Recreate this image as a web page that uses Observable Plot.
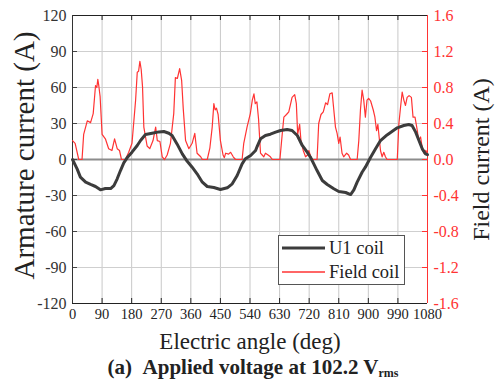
<!DOCTYPE html>
<html><head><meta charset="utf-8">
<script src="https://cdn.jsdelivr.net/npm/d3@7"></script>
<script src="https://cdn.jsdelivr.net/npm/@observablehq/plot@0.6"></script>
<style>body{margin:0;background:#fff;} #chart{width:496px;height:385px;} #chart svg text{font-family:'Times New Roman','Liberation Serif',serif !important;}</style>
</head><body><div id="chart"></div>
<script>
// ---- data ----
const angleTicks = [0,90,180,270,360,450,540,630,720,810,900,990,1080];
const armTicks = [-120,-90,-60,-30,0,30,60,90,120];
const fieldTickLabels = ["-1.6","-1.2","-0.8","-0.4","0.0","0.4","0.8","1.2","1.6"];
const fieldToArm = 75; // 1.6 A field  <->  120 A armature

const u1Angle = [0,14,24,40,55,70,85,100,116,126,136,146,156,166,181,197,207,222,242,263,278,293,303,318,334,349,364,379,395,410,430,450,471,486,501,516,526,542,557,562,572,587,602,618,633,653,668,684,699,714,724,734,744,760,775,795,810,831,846,856,866,881,891,907,922,937,957,973,988,1008,1023,1033,1044,1054,1064,1074,1080];
const u1Current = [0,-7.8,-14.7,-18.9,-20.8,-22.5,-25.3,-24.2,-24.2,-21.7,-16.1,-9.2,-2.8,1.4,6.1,11.7,15.8,20.8,21.9,23,23.3,21.9,20,13,4.7,-1.5,-6.4,-11.9,-18.9,-22.5,-23.3,-25,-23.6,-20.3,-13.3,-3.6,0.6,3.3,7.5,11,17.2,20,21.1,22.8,24.2,25,24.2,20,11.7,6.1,1.9,-3.6,-9.2,-17.5,-20.8,-24.4,-26.7,-27.5,-29.2,-25.3,-18.9,-10.6,-6.4,1.9,8.9,15.8,20.5,23.5,26.4,28.3,29.2,28.3,22.8,15.8,8.9,4.7,4];

const fieldAngle = [0,8,19,29,34,45,55,63,70,74,77,80,84,90,100,110,120,128,136,143,149,161,171,181,192,197,201,205,209,213,217,227,235,245,253,258,266,273,280,288,298,308,313,319,326,332,337,344,354,364,372,379,390,395,410,418,425,430,434,438,443,450,458,462,466,475,481,489,496,516,521,531,541,547,552,556,561,566,572,577,582,587,595,602,608,631,638,643,651,658,668,676,681,685,691,695,702,709,715,719,724,729,744,749,756,763,770,776,783,790,795,800,805,810,814,820,825,834,840,846,866,871,876,881,886,891,896,901,907,915,920,925,929,932,937,942,947,952,957,988,993,998,1003,1008,1013,1018,1024,1031,1036,1042,1049,1053,1059,1064,1069,1075,1080];
const fieldCurrent = [0.21,0.18,0,0,0.28,0.43,0.41,0.51,0.82,0.80,0.89,0.82,0.70,0.28,0.23,0.12,0.10,0.23,0.12,0.10,0,0,0.08,0.18,0.66,0.97,0.98,1.09,1.0,0.81,0.36,0.15,0.12,0.21,0.36,0.21,0.20,0.03,0,0.05,0.18,0.51,0.91,0.90,1.01,0.88,0.56,0.21,0.12,0.18,0.29,0.07,0.03,0,0,0.13,0.36,0.62,0.55,0.57,0.50,0.21,0.05,0.02,0.07,0.06,0.08,0.03,0,0,0.18,0.36,0.51,0.66,0.73,0.62,0.64,0.45,0.07,0.05,0.03,0.07,0.05,0.03,0,0,0.28,0.47,0.50,0.53,0.69,0.72,0.62,0.28,0.39,0.21,0.10,0.03,0.05,0.10,0.04,0,0,0.40,0.50,0.53,0.63,0.61,0.73,0.74,0.55,0.36,0.29,0.18,0.25,0.07,0.03,0.07,0.05,0,0,0.21,0.55,0.77,0.66,0.47,0.66,0.68,0.65,0.55,0.47,0.32,0.39,0.28,0.10,0.03,0.08,0.03,0,0,0.40,0.58,0.75,0.66,0.60,0.69,0.71,0.69,0.47,0.47,0.32,0.21,0.25,0.13,0.07,0.10,0.06];

const seriesNames = ["U1 coil","Field coil"];
const xTitle = "Electric angle (deg)";
const yTitle = "Armature current (A)";
const y2Title = "Field current (A)";

// ---- build ----
const u1 = u1Angle.map((a,i)=>({angle:a, current:u1Current[i]}));
const field = fieldAngle.map((a,i)=>({angle:a, current:fieldCurrent[i]}));

const W = 496, H = 385, mL = 72, mR = 69, mT = 15, mB = 82;
const pw = W - mL - mR, ph = H - mT - mB;
const RED = "#ff3333", DARK = "#3c3c3c";
const serif = "'Times New Roman','Liberation Serif',serif";

const chart = Plot.plot({
  width: W, height: H, marginLeft: mL, marginRight: mR, marginTop: mT, marginBottom: mB,
  style: {fontFamily: serif, background: "#fff", overflow: "visible"},
  x: {domain: [0, 1080]},
  y: {domain: [-120, 120]},
  marks: [
    Plot.gridX(angleTicks, {stroke: "#c8c8c8", strokeOpacity: 1}),
    Plot.gridY(armTicks, {stroke: "#cfcfcf", strokeOpacity: 1}),
    Plot.ruleY([0], {stroke: "#8c8c8c", strokeWidth: 2}),
    // inward tick marks
    Plot.tickX(angleTicks, {x: d => d, insetTop: ph - 5, stroke: "#222"}),
    Plot.tickX(angleTicks, {x: d => d, insetBottom: ph - 5, stroke: "#222"}),
    Plot.tickY(armTicks, {y: d => d, insetRight: pw - 5, stroke: "#444"}),
    Plot.tickY(armTicks, {y: d => d, insetLeft: pw - 5, stroke: RED}),
    // frame lines
    Plot.ruleY([120], {stroke: "#222"}),
    Plot.ruleY([-120], {stroke: "#222"}),
    Plot.ruleX([0], {stroke: "#333"}),
    Plot.ruleX([1080], {stroke: RED}),
    // data
    Plot.line(field, {x: "angle", y: d => d.current * fieldToArm, stroke: RED, strokeWidth: 1.2}),
    Plot.line(u1, {x: "angle", y: "current", stroke: DARK, strokeWidth: 3}),
    // axes
    Plot.axisX(angleTicks, {anchor: "bottom", tickSize: 0, tickPadding: 5, fontSize: 14.5, fill: "#222", label: null, tickFormat: d => String(d)}),
    Plot.axisY(armTicks, {anchor: "left", tickSize: 0, tickPadding: 6, fontSize: 16, fill: "#333", label: null, tickFormat: d => String(d)}),
    Plot.axisY(armTicks, {anchor: "right", tickSize: 0, tickPadding: 6, fontSize: 16, fill: RED, label: null,
      tickFormat: d => fieldTickLabels[armTicks.indexOf(d)]}),
    // titles
    Plot.text([xTitle], {frameAnchor: "bottom", dy: 38.5, fontSize: 23, fill: "#222", lineAnchor: "middle", textAnchor: "middle"}),
    Plot.text([yTitle], {frameAnchor: "left", dx: -48, dy: -4, rotate: -90, fontSize: 29, fill: "#222", lineAnchor: "middle", textAnchor: "middle"}),
    Plot.text([y2Title], {frameAnchor: "right", dx: 54, rotate: -90, fontSize: 24, fill: "#222", lineAnchor: "middle", textAnchor: "middle"})
  ]
});
document.getElementById("chart").appendChild(chart);
d3.select(chart).selectAll("text").attr("font-family", serif);

// legend + caption
const svg = d3.select(chart);
const lg = svg.append("g");
lg.append("rect").attr("x", 278.5).attr("y", 235.5).attr("width", 126).attr("height", 49)
  .attr("fill", "#fff").attr("stroke", "#555");
lg.append("line").attr("x1", 282).attr("x2", 325).attr("y1", 248).attr("y2", 248)
  .attr("stroke", DARK).attr("stroke-width", 3);
lg.append("line").attr("x1", 282).attr("x2", 325).attr("y1", 272).attr("y2", 272)
  .attr("stroke", RED).attr("stroke-width", 1.5);
lg.selectAll("text.l").data(seriesNames).join("text")
  .attr("x", 329).attr("y", (d,i) => 254 + i*24).attr("text-anchor", "start")
  .attr("font-family", serif).attr("font-size", 18.5).attr("fill", "#222").text(d => d);

const cap = svg.append("text").attr("x", 253).attr("y", 374).attr("text-anchor", "middle")
  .attr("font-family", serif).attr("font-size", 21).attr("font-weight", "bold").attr("fill", "#222");
cap.append("tspan").text("(a)\u00a0\u00a0Applied voltage at 102.2 V");
cap.append("tspan").attr("font-size", 12).attr("dy", 3).text("rms");
</script>
</body></html>
